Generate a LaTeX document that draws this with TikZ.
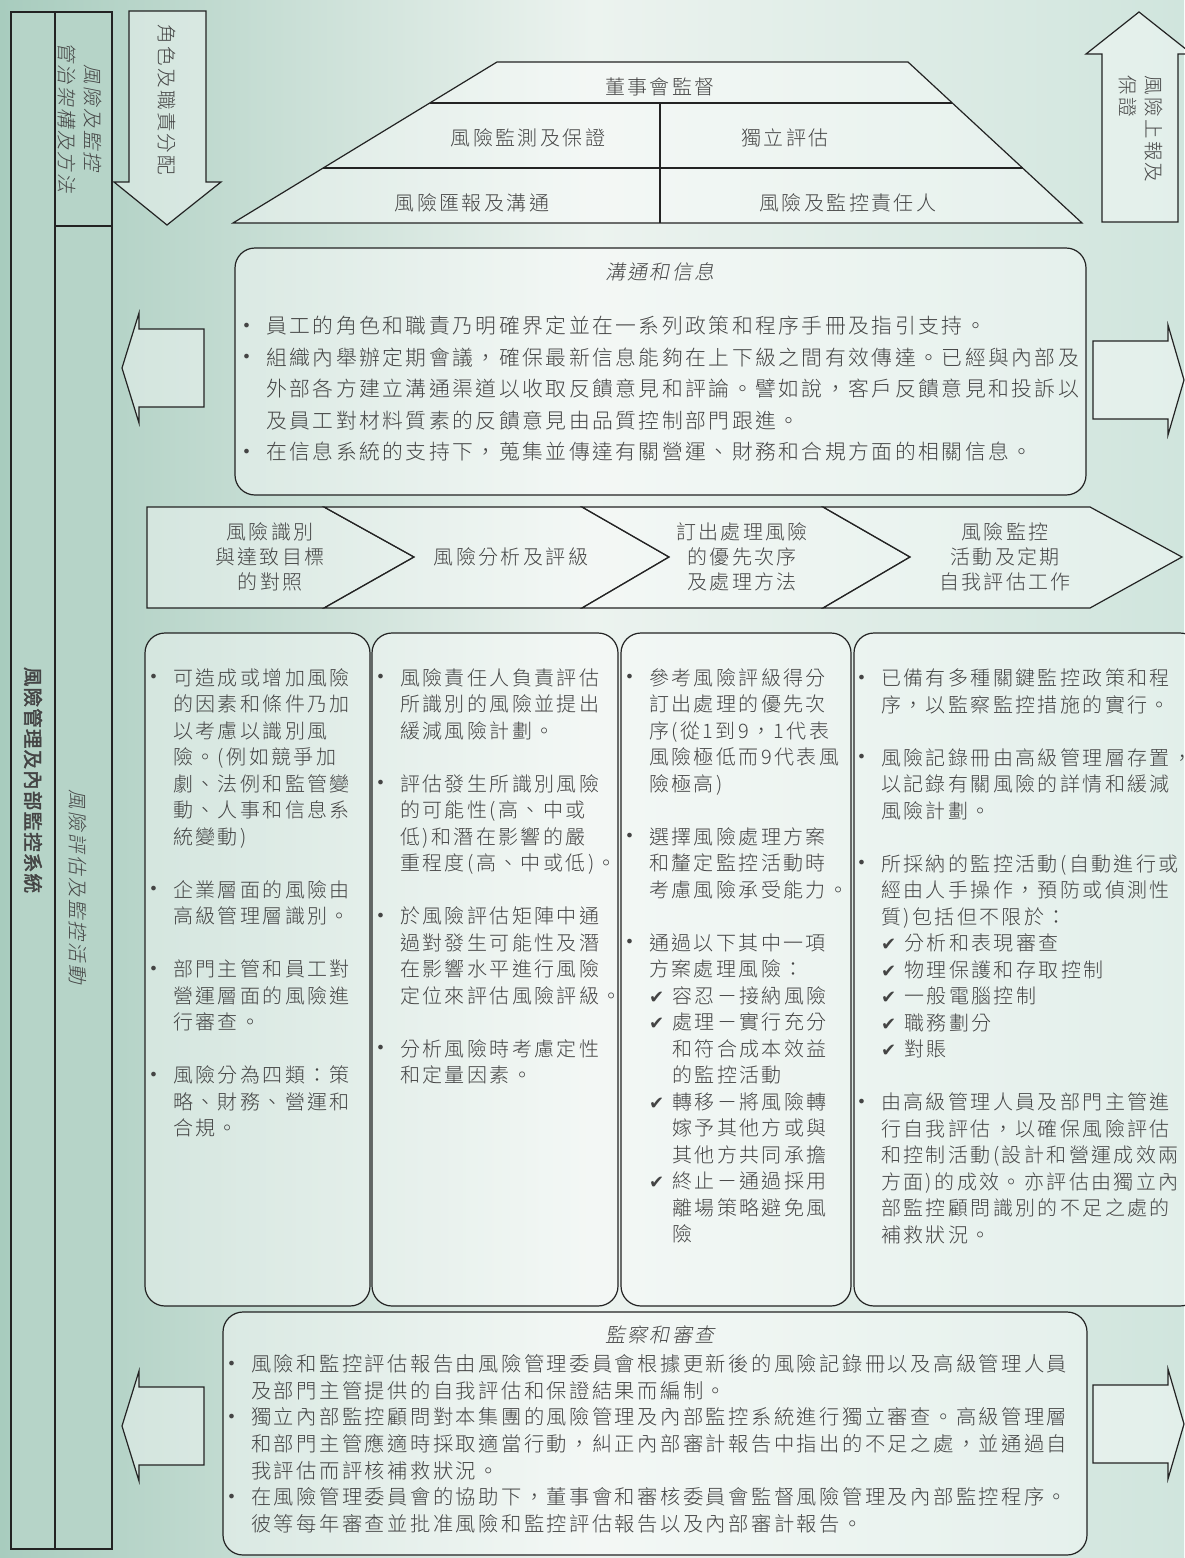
\documentclass[tikz,border=0pt]{standalone}
\usepackage{fontspec}
\IfFontExistsTF{Noto Sans CJK TC Light}{%
  \newfontfamily\cjk[LetterSpace=12]{Noto Sans CJK TC Light}%
  \newfontfamily\cjkit[LetterSpace=12,FakeSlant=0.2]{Noto Sans CJK TC Light}%
}{%
  \newfontfamily\cjk[LetterSpace=12]{Noto Sans CJK TC}%
  \newfontfamily\cjkit[LetterSpace=12,FakeSlant=0.2]{Noto Sans CJK TC}%
}
\newfontfamily\cjkbf[LetterSpace=6,FakeBold=2]{Noto Sans CJK TC}
\newfontfamily\symf{DejaVu Sans}
\definecolor{ink}{RGB}{68,68,68}
\definecolor{edge}{RGB}{35,35,35}
\definecolor{bgL}{RGB}{168,204,190}
\definecolor{bgM}{RGB}{236,243,239}
\definecolor{bgR}{RGB}{208,229,221}
\definecolor{strip}{RGB}{182,212,200}
\newcommand\bul{\makebox[0pt][r]{\raisebox{2.5pt}{\symf\fontsize{16}{16}\selectfont •}\hspace{15pt}}}
\newcommand\chk{\makebox[23pt][l]{\symf\fontsize{18}{18}\selectfont ✔}}
\newcommand\ind{\hspace*{23pt}}
\begin{document}
\begin{tikzpicture}[x=1pt,y=-1pt,
  ln/.style={draw=edge,line width=1.2pt,line join=miter},
  pale/.style={fill=white,fill opacity=0.4},
  body/.style={text=ink,inner sep=0pt,anchor=north west,align=left,font=\cjk\fontsize{20}{26.5}\selectfont},
  lab/.style={text=ink,inner sep=0pt,align=center,font=\cjk\fontsize{20}{25}\selectfont},
  ttl/.style={text=ink,inner sep=0pt,font=\cjkit\fontsize{20}{25}\selectfont},
  vlab/.style={text=ink,inner sep=0pt,rotate=-90,font=\cjk\fontsize{19.5}{26}\selectfont},
  vlabit/.style={text=ink,inner sep=0pt,rotate=-90,font=\cjkit\fontsize{19.5}{26}\selectfont},
  vlabbf/.style={text=ink,inner sep=0pt,rotate=-90,font=\cjkbf\fontsize{19.5}{26}\selectfont}]
\useasboundingbox (0,0) rectangle (1184,1558);
\shade[left color=bgL,right color=bgR,middle color=bgM] (0,0) rectangle (1184,1558);

% left strip
\path[ln,fill=strip] (11,12) rectangle (55,1549);
\path[ln,fill=strip] (55,12) rectangle (112,1549);
\draw[ln] (55,226) -- (112,226);
\node[vlabbf] (system) at (33,780) {風險管理及內部監控系統};
\node[vlabit,align=center] (gov) at (80,118) {風險及監控\\管治架構及方法};
\node[vlabit] (assess) at (78,887) {風險評估及監控活動};

% down arrow
\path[ln,pale] (129,11) -- (206,11) -- (206,182) -- (221,182) -- (167,225) -- (114,182) -- (129,182) -- cycle;
\node[vlab] (roles) at (167,100) {角色及職責分配};

% up arrow
\path[ln,pale] (1102,222) -- (1102,54) -- (1086,54) -- (1139,12) -- (1192,54) -- (1178,54) -- (1178,222) -- cycle;
\node[vlab,align=left] (report) at (1141,129) {風險上報及\\保證};

% trapezoid
\path[ln,pale] (497,62) -- (908,62) -- (1082,223) -- (233,223) -- cycle;
\draw[ln] (430,103) -- (952,103);
\draw[ln] (323,168) -- (1023,168);
\draw[ln] (660,103) -- (660,223);
\node[lab] (board) at (660,87) {董事會監督};
\node[lab] (monitor) at (528,138) {風險監測及保證};
\node[lab] (indep) at (785,138) {獨立評估};
\node[lab] (commrep) at (472,203) {風險匯報及溝通};
\node[lab] (owner) at (848,203) {風險及監控責任人};

% communication box
\path[ln,pale,rounded corners=20pt] (235,248) rectangle (1086,495);
\node[ttl] (commtitle) at (660,272) {溝通和信息};
\node[body,font=\cjk\fontsize{20.8}{31.5}\selectfont] (commtext) at (266,316) {%
\bul 員工的角色和職責乃明確界定並在一系列政策和程序手冊及指引支持。\\
\bul 組織內舉辦定期會議，確保最新信息能夠在上下級之間有效傳達。已經與內部及\\
外部各方建立溝通渠道以收取反饋意見和評論。譬如說，客戶反饋意見和投訴以\\
及員工對材料質素的反饋意見由品質控制部門跟進。\\
\bul 在信息系統的支持下，蒐集並傳達有關營運、財務和合規方面的相關信息。};

% side arrows (top)
\path[ln,pale] (122,368) -- (139,313) -- (139,329) -- (204,329) -- (204,407) -- (139,407) -- (139,423) -- cycle;
\path[ln,pale] (1093,341) -- (1168,341) -- (1168,325) -- (1184,380) -- (1168,435) -- (1168,419) -- (1093,419) -- cycle;

% chevrons
\path[ln,pale] (147,507) -- (324,507) -- (414,557) -- (324,608) -- (147,608) -- cycle;
\path[ln,pale] (324,507) -- (582,507) -- (669,557) -- (582,608) -- (324,608) -- (414,557) -- cycle;
\path[ln,pale] (582,507) -- (823,507) -- (910,557) -- (823,608) -- (582,608) -- (669,557) -- cycle;
\path[ln,pale] (823,507) -- (1090,507) -- (1182,557) -- (1090,608) -- (823,608) -- (910,557) -- cycle;
\node[lab] (step1) at (270,557) {風險識別\\與達致目標\\的對照};
\node[lab] (step2) at (511,557) {風險分析及評級};
\node[lab] (step3) at (742,557) {訂出處理風險\\的優先次序\\及處理方法};
\node[lab] (step4) at (1005,557) {風險監控\\活動及定期\\自我評估工作};

% columns
\path[ln,pale,rounded corners=20pt] (145,633) rectangle (370,1306);
\path[ln,pale,rounded corners=20pt] (372,633) rectangle (618,1306);
\path[ln,pale,rounded corners=20pt] (621,633) rectangle (851,1306);
\path[ln,pale,rounded corners=20pt] (854,633) rectangle (1200,1306);

\node[body] (col1) at (173,668.5) {%
\bul 可造成或增加風險\\
的因素和條件乃加\\
以考慮以識別風\\
險。(例如競爭加\\
劇、法例和監管變\\
動、人事和信息系\\
統變動)\\[26.5pt]
\bul 企業層面的風險由\\
高級管理層識別。\\[26.5pt]
\bul 部門主管和員工對\\
營運層面的風險進\\
行審查。\\[26.5pt]
\bul 風險分為四類：策\\
略、財務、營運和\\
合規。};

\node[body] (col2) at (400,668.5) {%
\bul 風險責任人負責評估\\
所識別的風險並提出\\
緩減風險計劃。\\[26.5pt]
\bul 評估發生所識別風險\\
的可能性(高、中或\\
低)和潛在影響的嚴\\
重程度(高、中或低)。\\[26.5pt]
\bul 於風險評估矩陣中通\\
過對發生可能性及潛\\
在影響水平進行風險\\
定位來評估風險評級。\\[26.5pt]
\bul 分析風險時考慮定性\\
和定量因素。};

\node[body] (col3) at (649,668.5) {%
\bul 參考風險評級得分\\
訂出處理的優先次\\
序(從1到9，1代表\\
風險極低而9代表風\\
險極高)\\[26.5pt]
\bul 選擇風險處理方案\\
和釐定監控活動時\\
考慮風險承受能力。\\[26.5pt]
\bul 通過以下其中一項\\
方案處理風險：\\
\chk 容忍－接納風險\\
\chk 處理－實行充分\\
\ind 和符合成本效益\\
\ind 的監控活動\\
\chk 轉移－將風險轉\\
\ind 嫁予其他方或與\\
\ind 其他方共同承擔\\
\chk 終止－通過採用\\
\ind 離場策略避免風\\
\ind 險};

\node[body] (col4) at (881,668.5) {%
\bul 已備有多種關鍵監控政策和程\\
序，以監察監控措施的實行。\\[26.5pt]
\bul 風險記錄冊由高級管理層存置，\\
以記錄有關風險的詳情和緩減\\
風險計劃。\\[26.5pt]
\bul 所採納的監控活動(自動進行或\\
經由人手操作，預防或偵測性\\
質)包括但不限於：\\
\chk 分析和表現審查\\
\chk 物理保護和存取控制\\
\chk 一般電腦控制\\
\chk 職務劃分\\
\chk 對賬\\[26.5pt]
\bul 由高級管理人員及部門主管進\\
行自我評估，以確保風險評估\\
和控制活動(設計和營運成效兩\\
方面)的成效。亦評估由獨立內\\
部監控顧問識別的不足之處的\\
補救狀況。};

% review box
\path[ln,pale,rounded corners=20pt] (223,1312) rectangle (1087,1555);
\node[ttl] (revtitle) at (660,1335) {監察和審查};
\node[body,font=\cjk\fontsize{20.3}{26.6}\selectfont] (revtext) at (251,1354.5) {%
\bul 風險和監控評估報告由風險管理委員會根據更新後的風險記錄冊以及高級管理人員\\
及部門主管提供的自我評估和保證結果而編制。\\
\bul 獨立內部監控顧問對本集團的風險管理及內部監控系統進行獨立審查。高級管理層\\
和部門主管應適時採取適當行動，糾正內部審計報告中指出的不足之處，並通過自\\
我評估而評核補救狀況。\\
\bul 在風險管理委員會的協助下，董事會和審核委員會監督風險管理及內部監控程序。\\
彼等每年審查並批准風險和監控評估報告以及內部審計報告。};

% side arrows (bottom)
\path[ln,pale] (122,1426) -- (139,1371) -- (139,1387) -- (204,1387) -- (204,1465) -- (139,1465) -- (139,1481) -- cycle;
\path[ln,pale] (1093,1385) -- (1168,1385) -- (1168,1369) -- (1184,1424) -- (1168,1479) -- (1168,1463) -- (1093,1463) -- cycle;
\end{tikzpicture}
\end{document}
